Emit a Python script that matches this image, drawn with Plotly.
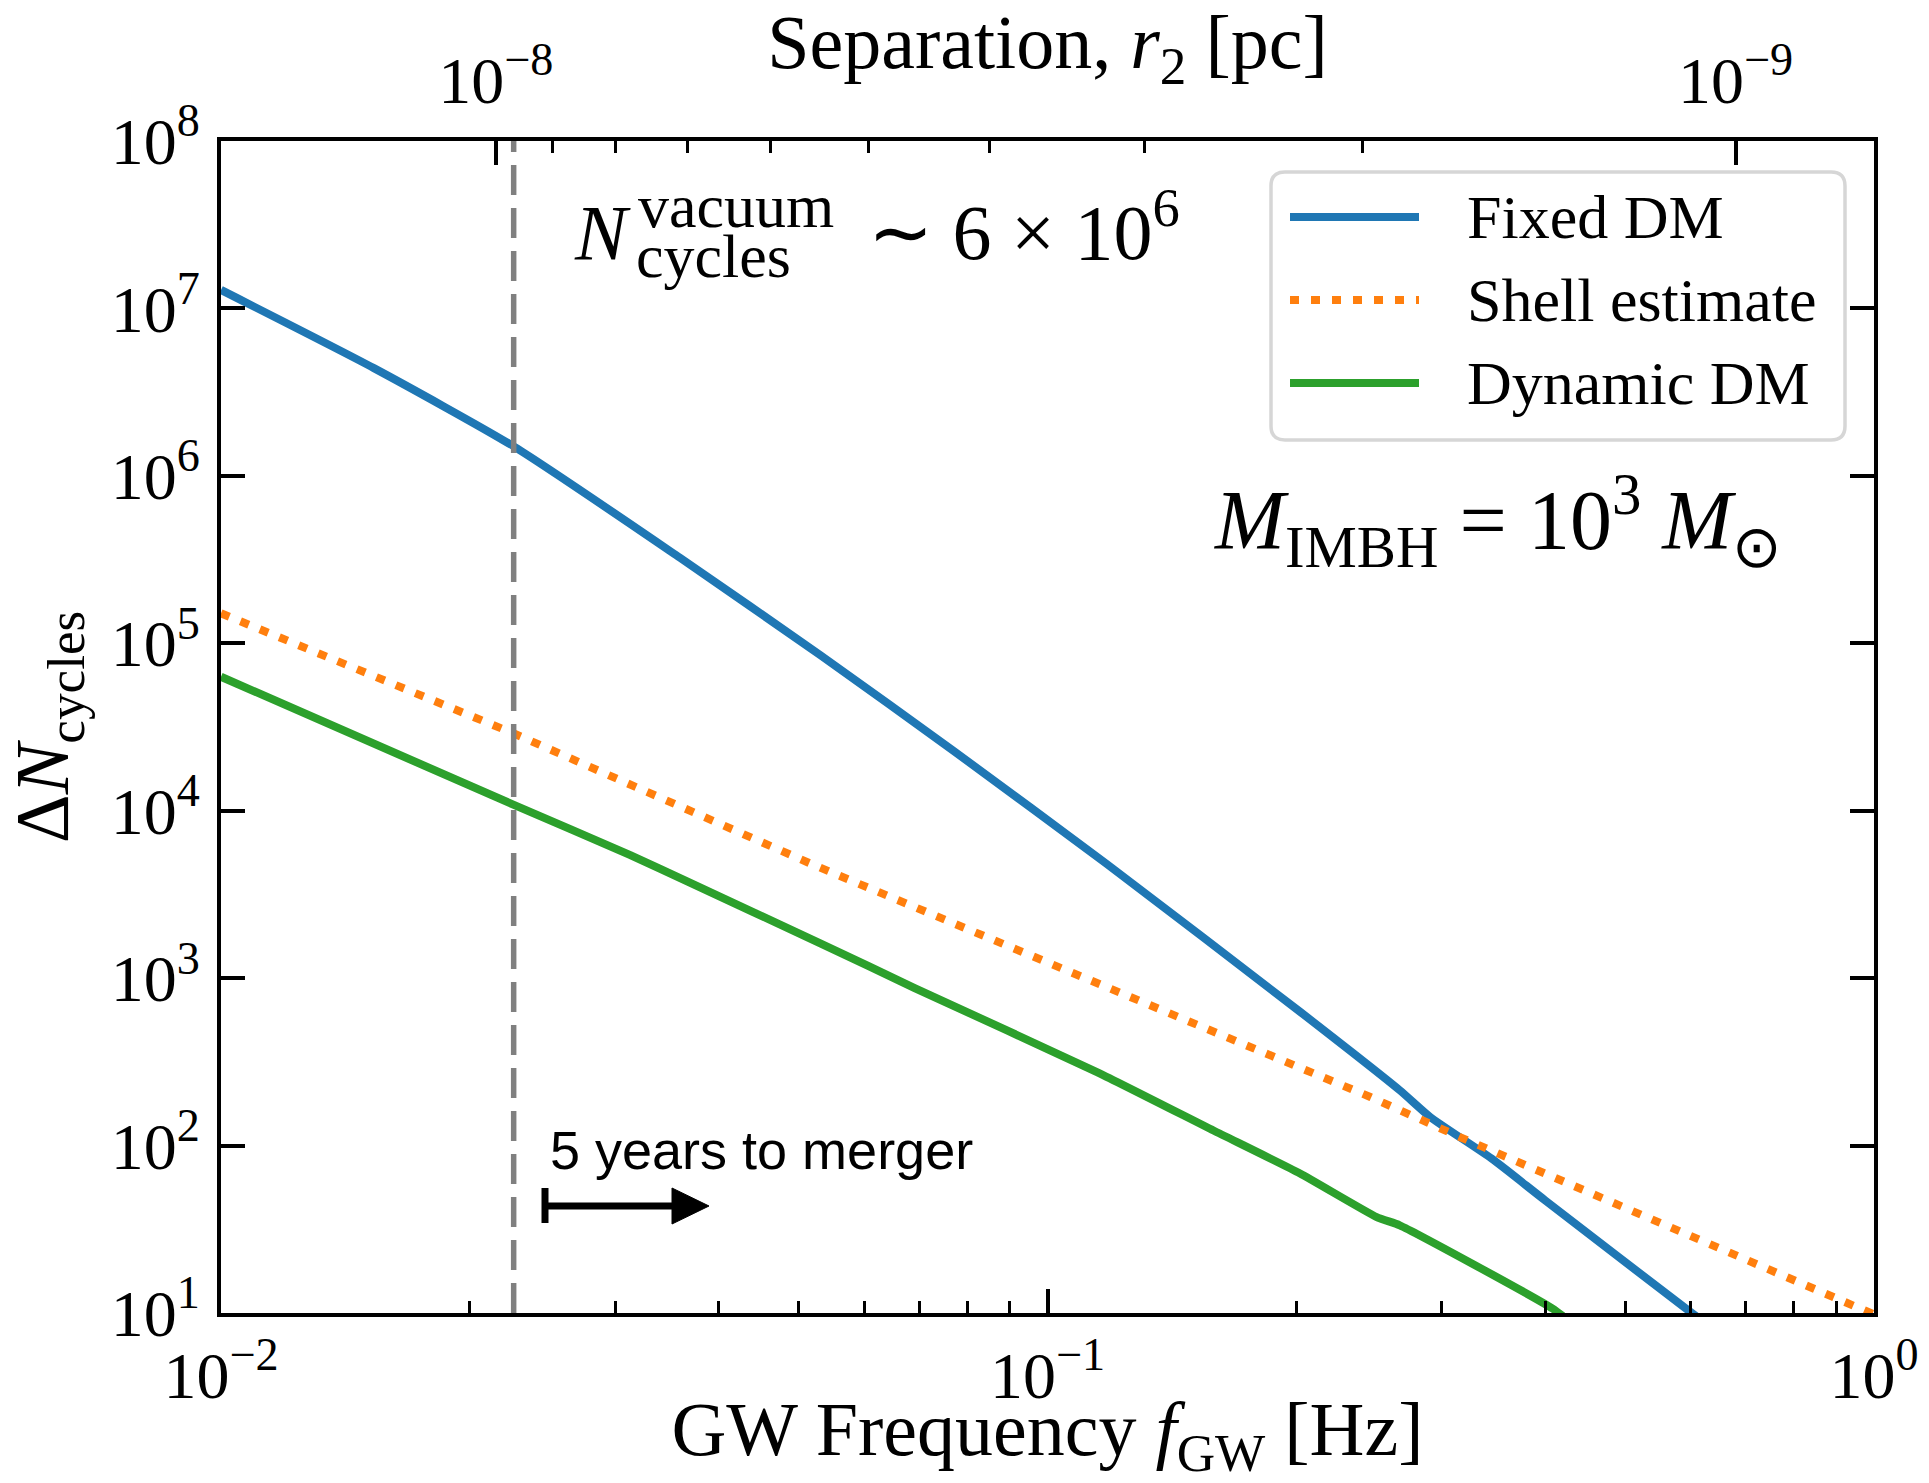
import math
import plotly.graph_objects as go

# ---- data: dephasing cycles vs GW frequency for a 10^3 Msun IMBH ----
f_fixed = [0.0100, 0.01531, 0.02265, 0.03592, 0.05318, 0.07686, 0.1178,
           0.2021, 0.2668, 0.2905, 0.3446, 0.4000, 0.6002, 0.62]
n_fixed = [1.29e7, 4.40e6, 1.49e6, 3.24e5, 8.45e4, 2.29e4, 4.83e3,
           630, 214, 148, 83.6, 47.1, 10.1, 9.0]

f_shell = [0.0100, 0.02265, 0.0522, 0.2458, 0.316, 0.970, 1.0]
n_shell = [1.51e5, 2.88e4, 4.73e3, 195, 112, 10.4, 9.8]

f_dynamic = [0.0100, 0.02265, 0.03128, 0.03670, 0.05318, 0.06907, 0.1153,
             0.1588, 0.2021, 0.2502, 0.2668, 0.3266, 0.4088, 0.42]
n_dynamic = [6.31e4, 1.08e4, 5.43e3, 3.77e3, 1.61e3, 873, 272,
             123, 68.1, 37.4, 33.4, 19.7, 10.6, 9.6]

f_five_years = 0.0226          # frequency 5 years before merger [Hz]
f_at_r_1e8 = 0.0215            # GW frequency where r2 = 1e-8 pc

series_names = ["Fixed DM", "Shell estimate", "Dynamic DM"]
series_colors = ["#1f77b4", "#ff7f0e", "#2ca02c"]

x_tickvals = [1e-2, 1e-1, 1e0]
x_ticktext = ["10<sup>\u22122</sup>", "10<sup>\u22121</sup>", "10<sup>0</sup>"]
y_tickvals = [1e1, 1e2, 1e3, 1e4, 1e5, 1e6, 1e7, 1e8]
y_ticktext = ["10<sup>%d</sup>" % k for k in range(1, 9)]
r_tickvals = [1e-8, 1e-9]
r_ticktext = ["10<sup>\u22128</sup>", "10<sup>\u22129</sup>"]

# ---- figure geometry (pixels) ----
W, H = 1929, 1483
ML, MR, MT, MB = 221, 55, 141, 170
PW, PH = W - ML - MR, H - MT - MB

SERIF = "Liberation Serif"
SANS = "Liberation Sans"
DOTS = "9px,12px"


def px(x):
    return (x - ML) / PW


def py(y):
    return (MT + PH - y) / PH


fig = go.Figure()

fig.add_trace(go.Scatter(x=f_fixed, y=n_fixed, mode="lines", name=series_names[0],
                         line=dict(color=series_colors[0], width=8, shape="spline",
                                   smoothing=0.6)))
fig.add_trace(go.Scatter(x=f_shell, y=n_shell, mode="lines", name=series_names[1],
                         line=dict(color=series_colors[1], width=8, dash=DOTS)))
fig.add_trace(go.Scatter(x=f_dynamic, y=n_dynamic, mode="lines", name=series_names[2],
                         line=dict(color=series_colors[2], width=8, shape="spline",
                                   smoothing=0.5)))
fig.add_trace(go.Scatter(x=[f_five_years, f_five_years], y=[1e1, 1e8], mode="lines",
                         line=dict(color="#808080", width=5.5, dash="30px,13px"),
                         showlegend=False, hoverinfo="skip"))
# anchor trace for the separation axis
fig.add_trace(go.Scatter(x=[1e-8], y=[1e3], xaxis="x2", mode="markers",
                         marker=dict(opacity=0), showlegend=False, hoverinfo="skip"))

# separation axis range from Kepler's law, r ~ f^(-2/3)
lr_left = -8 - (2 / 3) * (math.log10(1e-2) - math.log10(f_at_r_1e8))
lr_right = -8 - (2 / 3) * (math.log10(1e0) - math.log10(f_at_r_1e8))

tick_font = dict(family=SERIF, size=66, color="black")
title_font = dict(family=SERIF, size=76, color="black")

axis_common = dict(showline=True, linecolor="black", linewidth=4, ticks="inside",
                   tickcolor="black", tickwidth=3.5, ticklen=24, showgrid=False,
                   zeroline=False, tickfont=tick_font, automargin=False)

fig.update_layout(
    width=W, height=H, autosize=False,
    margin=dict(l=ML, r=MR, t=MT, b=MB, pad=0),
    plot_bgcolor="white", paper_bgcolor="white",
    showlegend=False,
    xaxis=dict(type="log", range=[-2, 0], tickmode="array", tickvals=x_tickvals,
               ticktext=x_ticktext, ticklabelstandoff=2,
               minor=dict(ticks="inside", ticklen=12, tickwidth=3, tickcolor="black",
                          tickvals=[k * 10.0 ** e for e in (-2, -1) for k in range(2, 10)],
                          showgrid=False),
               title=dict(text="GW Frequency <i>f</i><sub>GW</sub> [Hz]", font=title_font,
                          standoff=17),
               **axis_common),
    xaxis2=dict(type="log", overlaying="x", side="top", anchor="y",
                range=[lr_left, lr_right], tickmode="array", tickvals=r_tickvals,
                ticktext=r_ticktext, ticklabelstandoff=8,
                minor=dict(ticks="inside", ticklen=12, tickwidth=3, tickcolor="black",
                           tickvals=[k * 1e-9 for k in range(2, 10)], showgrid=False),
                title=dict(text="Separation, <i>r</i><sub>2</sub> [pc]", font=title_font,
                           standoff=0),
                **axis_common),
    yaxis=dict(type="log", range=[1, 8], tickmode="array", tickvals=y_tickvals,
               ticktext=y_ticktext, mirror="ticks", ticklabelstandoff=4,
               title=dict(text="\u0394<i>N</i><sub>cycles</sub>", font=title_font,
                          standoff=24),
               **axis_common),
)

# ---- legend drawn as a framed box ----
bx0, by0, bx1, by1, rad = 1271, 172, 1845, 440, 14
rx, ry = rad / PW, rad / PH
X0, X1, Y0, Y1 = px(bx0), px(bx1), py(by1), py(by0)
box_path = (f"M{X0 + rx},{Y0} L{X1 - rx},{Y0} Q{X1},{Y0} {X1},{Y0 + ry} "
            f"L{X1},{Y1 - ry} Q{X1},{Y1} {X1 - rx},{Y1} L{X0 + rx},{Y1} "
            f"Q{X0},{Y1} {X0},{Y1 - ry} L{X0},{Y0 + ry} Q{X0},{Y0} {X0 + rx},{Y0} Z")
fig.add_shape(type="path", path=box_path, xref="paper", yref="paper",
              line=dict(color="#d6d6d6", width=3.5), fillcolor="rgba(255,255,255,0.85)",
              layer="above")
legend_rows = [217, 300, 383]
legend_dash = ["solid", DOTS, "solid"]
for name, color, dash, yrow in zip(series_names, series_colors, legend_dash, legend_rows):
    fig.add_shape(type="line", xref="paper", yref="paper",
                  x0=px(1290), x1=px(1419), y0=py(yrow), y1=py(yrow),
                  line=dict(color=color, width=8, dash=dash), layer="above")
    fig.add_annotation(text=name, xref="paper", yref="paper", x=px(1465), y=py(yrow),
                       xanchor="left", yanchor="middle", showarrow=False,
                       font=dict(family=SERIF, size=62, color="black"))

# ---- text labels ----
big = dict(family=SERIF, size=78, color="black")
small = dict(family=SERIF, size=62, color="black")
fig.add_annotation(text="<i>N</i>", xref="paper", yref="paper", x=px(572), y=py(232),
                   xanchor="left", yanchor="middle", showarrow=False, font=big)
fig.add_annotation(text="vacuum", xref="paper", yref="paper", x=px(636), y=py(206),
                   xanchor="left", yanchor="middle", showarrow=False, font=small)
fig.add_annotation(text="cycles", xref="paper", yref="paper", x=px(634), y=py(256),
                   xanchor="left", yanchor="middle", showarrow=False, font=small)
fig.add_annotation(text="\u223c 6 \u00d7 10<sup>6</sup>", xref="paper", yref="paper",
                   x=px(866), y=py(226), xanchor="left", yanchor="middle",
                   showarrow=False, font=big)
fig.add_annotation(text="<i>M</i><sub>IMBH</sub> = 10<sup>3</sup> <i>M</i><sub>\u2299</sub>",
                   xref="paper", yref="paper", x=px(1212), y=py(521),
                   xanchor="left", yanchor="middle", showarrow=False,
                   font=dict(family=SERIF, size=84, color="black"))
fig.add_annotation(text="5 years to merger", xref="paper", yref="paper",
                   x=px(548), y=py(1150), xanchor="left", yanchor="middle",
                   showarrow=False, font=dict(family=SANS, size=54, color="black"))

# ---- arrow: |---> toward merger ----
fig.add_shape(type="line", xref="paper", yref="paper", x0=px(545), x1=px(545),
              y0=py(1188), y1=py(1223), line=dict(color="black", width=7))
fig.add_shape(type="line", xref="paper", yref="paper", x0=px(545), x1=px(676),
              y0=py(1206), y1=py(1206), line=dict(color="black", width=7))
fig.add_shape(type="path", xref="paper", yref="paper",
              path=f"M{px(672)},{py(1188)} L{px(709)},{py(1206)} L{px(672)},{py(1224)} Z",
              fillcolor="black", line=dict(color="black", width=1))

fig.write_html("out.html", config={"displayModeBar": False})
